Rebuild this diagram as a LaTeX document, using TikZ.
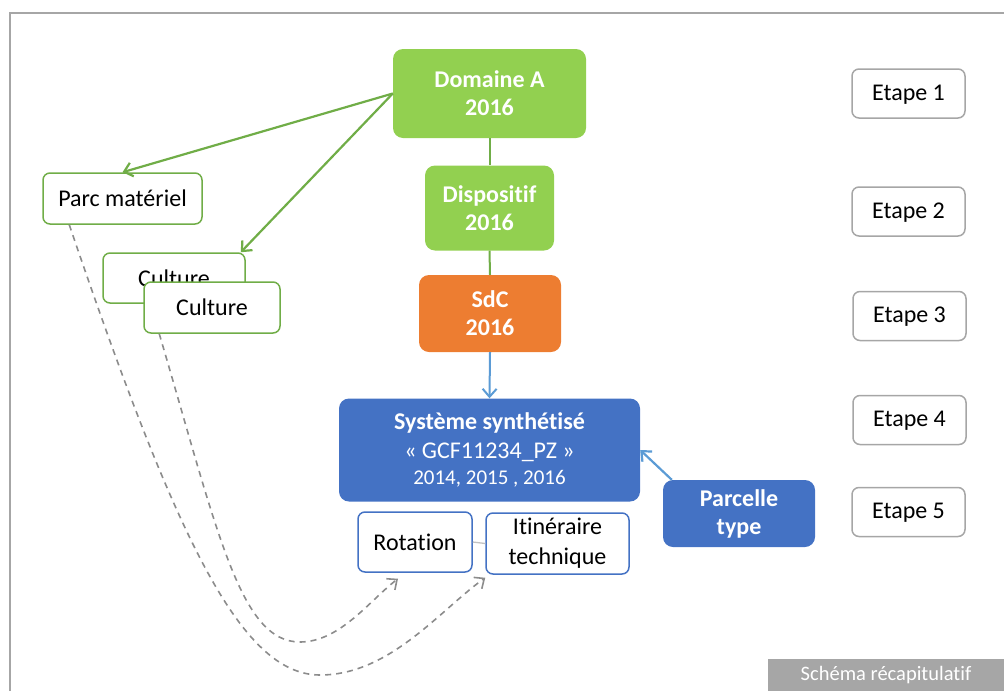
\documentclass[tikz,border=0pt]{standalone}
\usepackage{fontspec}
\setmainfont[Ligatures=NoCommon]{Carlito}
\usepackage{xcolor}
\usetikzlibrary{arrows.meta,positioning}
\definecolor{vert}{HTML}{92D050}
\definecolor{vertfonce}{HTML}{70AD47}
\definecolor{orange}{HTML}{ED7D31}
\definecolor{bleu}{HTML}{4472C4}
\definecolor{bleuclair}{HTML}{5B9BD5}
\definecolor{gris}{HTML}{A6A6A6}
\definecolor{grisfonce}{HTML}{8C8C8C}

\begin{document}
\begin{tikzpicture}[x=1pt,y=-1pt,>={Straight Barb[length=8pt,width=14pt]},
  every node/.style={align=center,inner sep=0pt,font=\fontsize{24}{28}\selectfont},
  plein/.style={rounded corners=10pt,text=white,font=\fontsize{24}{28}\selectfont\bfseries},
  cadrevert/.style={draw=vertfonce,line width=1.5pt,fill=white,rounded corners=7pt},
  cadrebleu/.style={draw=bleu,line width=1.5pt,fill=white,rounded corners=7pt},
  etape/.style={draw=gris,line width=1.5pt,fill=white,rounded corners=7pt,minimum width=113pt,minimum height=49pt,text depth=2pt}]
\useasboundingbox (0,0) rectangle (1004,691);
\draw[gris,line width=1.3pt] (10,691) -- (10,13) -- (1004,13);

% colonne centrale
\node[plein,fill=vert,minimum width=193pt,minimum height=89pt] (dom) at (489.5,93.5) {Domaine A\\2016};
\node[plein,fill=vert,minimum width=129pt,minimum height=85pt] (disp) at (489.5,208) {Dispositif\\2016};
\node[plein,fill=orange,minimum width=142pt,minimum height=77pt] (sdc) at (490,313.5) {SdC\\2016};
\node[plein,fill=bleu,minimum width=301pt,minimum height=103pt,font=\fontsize{24}{29}\selectfont] (sys) at (489.5,450)
  {\textbf{Système synthétisé}\\« GCF11234\_PZ »\\[-3pt]{\fontsize{21}{26}\selectfont 2014, 2015 , 2016}};
\node[plein,fill=bleu,minimum width=152pt,minimum height=67pt] (parcelle) at (739,513.5) {Parcelle\\type};
\node[cadrebleu,minimum width=114pt,minimum height=60pt] (rot) at (415,542) {Rotation};
\node[cadrebleu,minimum width=143pt,minimum height=61pt,font=\fontsize{24}{30}\selectfont] (itin) at (557.5,543.5) {Itinéraire\\technique};

% colonne gauche
\node[cadrevert,minimum width=159pt,minimum height=51pt] (parc) at (122.5,198.5) {Parc matériel};
\node[cadrevert,minimum width=142pt,minimum height=50pt] (cult1) at (174,278) {Culture};
\node[cadrevert,minimum width=136pt,minimum height=51pt] (cult2) at (212,307.5) {Culture};

% etapes
\node[etape] (e1) at (908.5,93.5) {Etape 1};
\node[etape] (e2) at (908.5,211.5) {Etape 2};
\node[etape] (e3) at (909.5,316) {Etape 3};
\node[etape] (e4) at (909.5,420) {Etape 4};
\node[etape] (e5) at (908.5,512) {Etape 5};

\node[fill=gris,text=white,minimum width=236pt,minimum height=32pt,font=\fontsize{20.5}{24}\selectfont] (recap) at (886,675) {Schéma récapitulatif};

% liens
\draw[vertfonce,line width=2.2pt,->] (dom.west) -- (parc.north);
\draw[vertfonce,line width=2.2pt,->] (dom.west) -- ([xshift=-5pt]cult1.north east);
\draw[vertfonce,line width=2pt] (dom.south) -- (disp.north);
\draw[vertfonce,line width=2pt] (disp.south) -- (sdc.north);
\draw[bleuclair,line width=2pt,->] (sdc.south) -- (sys.north);
\draw[bleuclair,line width=2.2pt,->] ([xshift=9pt]parcelle.north west) -- (sys.east);
\draw[gris!70,line width=1.3pt] (rot.east) -- (itin.west);
\draw[grisfonce,line width=1.6pt,dash pattern=on 6pt off 5pt,->] ([xshift=27pt]parc.south west)
  .. controls (175,535) and (240,675) .. (320,675)
  .. controls (390,675) and (440,610) .. ([yshift=-3pt]itin.south west);
\draw[grisfonce,line width=1.6pt,dash pattern=on 6pt off 5pt,->] ([xshift=16pt]cult2.south west)
  .. controls (218,533) and (240,642) .. (300,642)
  .. controls (340,642) and (370,600) .. ([xshift=-17pt,yshift=-6pt]rot.south);
\end{tikzpicture}
\end{document}
